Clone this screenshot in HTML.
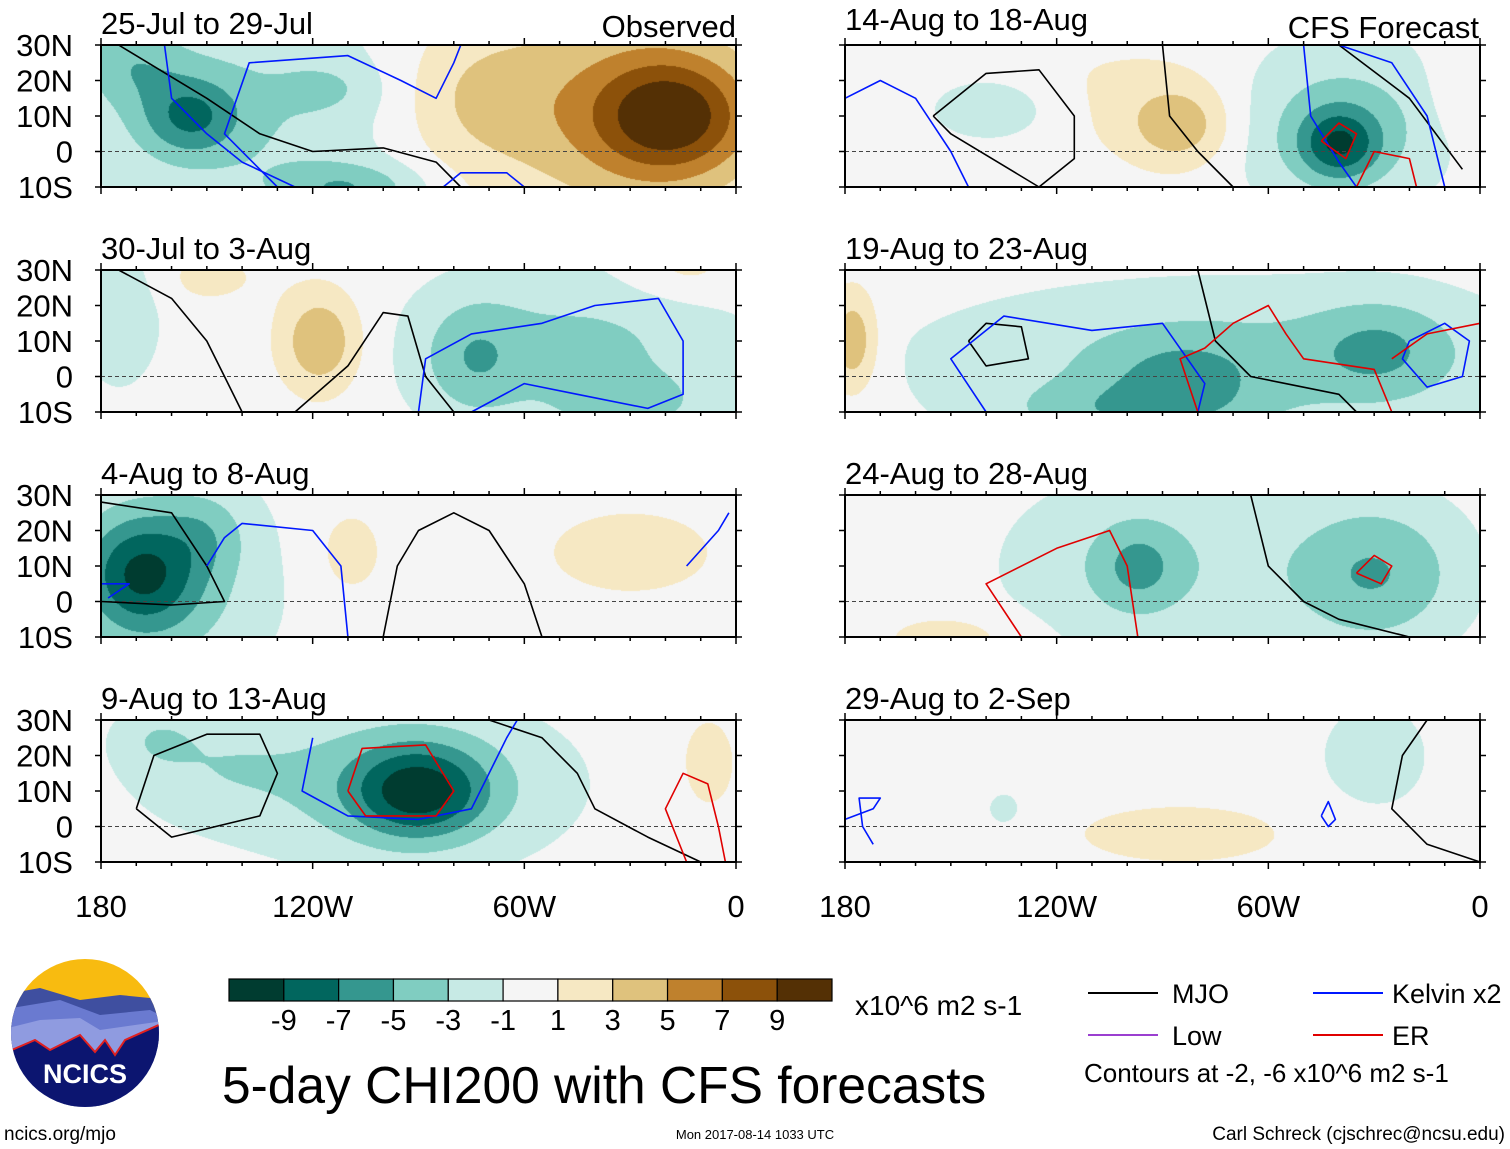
<!DOCTYPE html>
<html><head><meta charset="utf-8">
<style>
html,body{margin:0;padding:0;background:#fff;}
#wrap{position:relative;width:1510px;height:1149px;overflow:hidden;font-family:"Liberation Sans",sans-serif;}
canvas{position:absolute;}
svg{position:absolute;left:0;top:0;}
</style></head>
<body>
<div id="wrap">
<svg id="svg" width="1510" height="1149"></svg>
</div>
<script>
// ---- data ----
const levels = [-9,-7,-5,-3,-1,1,3,5,7,9];
const levelColors = ["#003c30","#01665e","#35978f","#80cdc1","#c7eae5","#f5f5f5","#f6e8c3","#dfc27d","#bf812d","#8c510a","#543005"];
const panelTitles = ["25-Jul to 29-Jul","30-Jul to 3-Aug","4-Aug to 8-Aug","9-Aug to 13-Aug","14-Aug to 18-Aug","19-Aug to 23-Aug","24-Aug to 28-Aug","29-Aug to 2-Sep"];
const latTicks = ["30N","20N","10N","0","10S"];
const lonTicks = ["180","120W","60W","0"];
// anomaly centers: [lon, lat, amplitude, sigmaLon, sigmaLat]
const anomalies = [
 [[-155,10,-5,10,8],[-140,12,-3,35,22],[-172,25,-3,10,8],[-110,-10,-4,15,5],[-18,10,8,16,12],[-35,12,4,30,25],[-75,15,2.5,16,14],[-115,18,-1.5,10,5]],
 [[-118,10,5,8,10],[-45,8,-3.5,32,16],[-75,5,-3,10,12],[-175,18,-3,8,14],[-30,-8,-2.5,15,6],[-15,30,2,12,6],[-150,28,1.5,12,6]],
 [[-169,8,-7,12,12],[-160,5,-3,22,22],[-30,14,1.8,20,10],[-110,14,1.8,8,10],[-150,20,-2,8,8]],
 [[-90,10,-7,13,9],[-95,12,-4,32,16],[-150,18,-2,18,12],[-8,18,2,6,10],[-165,25,-1.8,8,6]],
 [[-40,2,-6,8,7],[-40,8,-4,22,16],[-137,12,-2.5,14,7],[-85,7,4,10,8],[-8,18,1.5,5,10],[-100,15,1.5,25,12]],
 [[-178,10,5,5,10],[-70,5,-3.5,60,15],[-28,8,-3,14,10],[-85,0,-2.5,15,8],[-100,-10,-3,25,6]],
 [[-97,10,-3,8,8],[-95,10,-3,28,18],[-30,8,-5,18,15],[-150,-10,2,14,5]],
 [[-85,-2,1.8,25,7],[-30,20,-2,12,12],[-135,5,-1.8,4,4]]
];
// contours: [type, [[lon,lat],...]]
const contours = [
 [["mjo",[[-175,30],[-150,15],[-135,5],[-120,0],[-100,1],[-85,-3],[-78,-10]]],
  ["kel",[[-162,30],[-160,15],[-150,5],[-140,-3],[-125,-10]]],
  ["kel",[[-130,-10],[-145,5],[-138,25],[-110,27],[-95,20],[-85,15],[-80,25],[-78,30]]],
  ["kel",[[-83,-10],[-78,-6],[-65,-6],[-60,-10]]]],
 [["mjo",[[-175,30],[-160,22],[-150,10],[-145,0],[-140,-10]]],
  ["mjo",[[-125,-10],[-110,3],[-100,18],[-93,17],[-88,0],[-80,-10]]],
  ["kel",[[-90,-10],[-88,5],[-75,12],[-55,15],[-40,20],[-22,22],[-15,10],[-15,-5],[-25,-9],[-45,-5],[-60,-2],[-75,-10]]]],
 [["mjo",[[-180,28],[-160,25],[-150,10],[-145,0],[-160,-1],[-180,0]]],
  ["mjo",[[-100,-10],[-96,10],[-90,20],[-80,25],[-70,20],[-60,5],[-55,-10]]],
  ["kel",[[-150,10],[-145,18],[-140,22],[-120,20],[-112,10],[-110,-10]]],
  ["kel",[[-180,5],[-172,5],[-178,1]]],
  ["kel",[[-14,10],[-5,20],[-2,25]]]],
 [["mjo",[[-170,5],[-165,20],[-150,26],[-135,26],[-130,15],[-135,3],[-160,-3],[-170,5]]],
  ["mjo",[[-70,30],[-55,25],[-45,15],[-40,5],[-25,-3],[-10,-10]]],
  ["kel",[[-120,25],[-123,10],[-110,3],[-90,2],[-75,5],[-70,15],[-65,25],[-62,30]]],
  ["er",[[-110,10],[-106,22],[-88,23],[-80,10],[-85,3],[-105,3],[-110,10]]],
  ["er",[[-14,-10],[-20,5],[-15,15],[-8,12],[-5,0],[-3,-10]]]],
 [["mjo",[[-155,10],[-140,22],[-125,23],[-115,10],[-115,-2],[-125,-10],[-150,5],[-155,10]]],
  ["mjo",[[-90,30],[-88,10],[-80,0],[-70,-10]]],
  ["mjo",[[-40,30],[-20,15],[-5,-5]]],
  ["kel",[[-180,15],[-170,20],[-160,15],[-150,0],[-145,-10]]],
  ["kel",[[-50,30],[-48,10],[-40,-3],[-35,-10]]],
  ["kel",[[-40,30],[-25,25],[-15,10],[-10,-10]]],
  ["er",[[-35,-10],[-30,0],[-20,-2],[-18,-10]]],
  ["er",[[-45,3],[-40,8],[-35,5],[-38,-2],[-45,3]]]],
 [["mjo",[[-145,10],[-140,15],[-130,14],[-128,5],[-140,3],[-145,10]]],
  ["mjo",[[-80,30],[-75,10],[-65,0],[-40,-5],[-35,-10]]],
  ["kel",[[-140,-10],[-150,5],[-135,17],[-110,13],[-90,15],[-78,-2],[-80,-10]]],
  ["kel",[[-20,10],[-10,15],[-3,10],[-5,0],[-15,-3],[-22,5],[-20,10]]],
  ["er",[[-80,-10],[-85,5],[-78,8],[-70,15],[-60,20],[-55,12],[-50,5],[-30,2],[-25,-10]]],
  ["er",[[-25,5],[-15,12],[0,15]]]],
 [["mjo",[[-65,30],[-60,10],[-50,0],[-40,-5],[-20,-10]]],
  ["er",[[-130,-10],[-140,5],[-120,15],[-105,20],[-100,10],[-97,-10]]],
  ["er",[[-35,8],[-30,13],[-25,10],[-28,5],[-35,8]]]],
 [["mjo",[[-15,30],[-22,20],[-25,5],[-15,-5],[0,-10]]],
  ["kel",[[-180,2],[-172,5],[-170,8],[-176,8],[-175,0],[-172,-5]]],
  ["kel",[[-45,3],[-43,7],[-41,2],[-43,0],[-45,3]]]]
];
// ---- layout ----
const NS="http://www.w3.org/2000/svg";
const svg=document.getElementById('svg');
const wrap=document.getElementById('wrap');
const panelW=635, panelH=142;
const colX=[101,845], rowY=[45,270,495,720];
const strokeCol={mjo:"#000",kel:"#0018ff",er:"#e00000"};
function mk(tag,attrs,parent){const e=document.createElementNS(NS,tag);for(const k in attrs)e.setAttribute(k,attrs[k]);(parent||svg).appendChild(e);return e;}
function colorFor(v){let i=0;while(i<levels.length&&v>levels[i])i++;return levelColors[i];}
function hex(c){return [parseInt(c.substr(1,2),16),parseInt(c.substr(3,2),16),parseInt(c.substr(5,2),16)];}
for(let p=0;p<8;p++){
  const px=colX[p<4?0:1], py=rowY[p%4];
  const xs=lon=>px+(lon+180)/180*panelW;
  const ys=lat=>py+(30-lat)/40*panelH;
  const cv=document.createElement('canvas');
  cv.width=panelW;cv.height=panelH;cv.style.left=px+'px';cv.style.top=py+'px';
  
  
  wrap.insertBefore(cv,svg);
  const ctx=cv.getContext('2d');const img=ctx.createImageData(panelW,panelH);
  const blobs=anomalies[p];
  for(let j=0;j<panelH;j++){const lat=30-j/panelH*40;
    for(let i=0;i<panelW;i++){const lon=-180+i/panelW*180;let v=0;
      for(const b of blobs){const dx=(lon-b[0])/b[3],dy=(lat-b[1])/b[4];v+=b[2]*Math.exp(-0.5*(dx*dx+dy*dy));}
      const c=hex(colorFor(v));const k=(j*panelW+i)*4;img.data[k]=c[0];img.data[k+1]=c[1];img.data[k+2]=c[2];img.data[k+3]=255;}}
  ctx.putImageData(img,0,0);
  const g=mk('g',{});
  
  
  const eq=mk('line',{x1:px,x2:px+panelW,y1:ys(0),y2:ys(0),stroke:"#444","stroke-width":1,"stroke-dasharray":"4,3"},g);
  
  
  for(const c of contours[p]){
    const d=c[1].map((pt,i)=>(i?'L':'M')+xs(pt[0]).toFixed(1)+','+ys(pt[1]).toFixed(1)).join(' ');
    const path=mk('path',{d:d,fill:"none",stroke:strokeCol[c[0]],"stroke-width":1.6,"stroke-linejoin":"round"},g);
    
    
  }
  const fr=mk('rect',{x:px,y:py,width:panelW,height:panelH,fill:"none",stroke:"#000","stroke-width":2},g);
  
  
  for(let lon=-180;lon<=0;lon+=10){const x=xs(lon),L=(lon%60===0)?7:4;
    mk('line',{x1:x,x2:x,y1:py,y2:py-L,stroke:"#000","stroke-width":1.5},g);
    mk('line',{x1:x,x2:x,y1:py+panelH,y2:py+panelH+L,stroke:"#000","stroke-width":1.5},g);}
  for(let lat=-10;lat<=30;lat+=10){const y=ys(lat);
    mk('line',{x1:px,x2:px-6,y1:y,y2:y,stroke:"#000","stroke-width":1.5},g);
    mk('line',{x1:px+panelW,x2:px+panelW+6,y1:y,y2:y,stroke:"#000","stroke-width":1.5},g);}
  const ty=(p===4)?py-15:py-11;
  const t=mk('text',{x:px,y:ty,"font-size":31,fill:"#000"},g);t.textContent=panelTitles[p];
  
  
  if(p<4){latTicks.forEach((s,i)=>{const tt=mk('text',{x:73,y:ys(30-i*10)+11,"font-size":31,"text-anchor":"end"},g);tt.textContent=s;
    
    });}
}
const o1=mk('text',{x:736,y:37,"font-size":31,"text-anchor":"end"});o1.textContent="Observed";


const o2=mk('text',{x:1479,y:38,"font-size":31,"text-anchor":"end"});o2.textContent="CFS Forecast";


colX.forEach(px=>lonTicks.forEach((s,i)=>{const t=mk('text',{x:px+i*panelW/3,y:917,"font-size":31,"text-anchor":"middle"});t.textContent=s;
  
  }));
// colorbar
const cbx=229,cby=979,cbw=603/11;
levelColors.forEach((c,i)=>{const r=mk('rect',{x:cbx+i*cbw,y:cby,width:cbw,height:22,fill:c,stroke:"#000","stroke-width":1.2});
  
  });
[-9,-7,-5,-3,-1,1,3,5,7,9].forEach((v,i)=>{const t=mk('text',{x:cbx+(i+1)*cbw,y:1030,"font-size":29,"text-anchor":"middle"});t.textContent=v;
  
  });
function txt(s,x,y,fs,anchor,name){const t=mk('text',{x:x,y:y,"font-size":fs,"text-anchor":anchor||"start"});t.textContent=s;
  
  return t;}
txt("x10^6 m2 s-1",855,1015,28,"start","colorbar-units");
txt("5-day CHI200 with CFS forecasts",222,1103,51.5,"start","main-title");
[["#000",1088,993,"MJO",1172],["#0018ff",1313,993,"Kelvin x2",1392],["#9b3fd0",1088,1035,"Low",1172],["#e00000",1313,1035,"ER",1392]].forEach(l=>{
  const ln=mk('line',{x1:l[1],x2:l[1]+70,y1:l[2],y2:l[2],stroke:l[0],"stroke-width":2});
  
  
  txt(l[3],l[4],l[2]+10,27,"start","legend-entry");});
txt("Contours at -2, -6 x10^6 m2 s-1",1084,1082,26,"start","contour-note");
txt("ncics.org/mjo",4,1140,19,"start","site-url");
txt("Mon 2017-08-14 1033 UTC",755,1139,13,"middle","timestamp");
txt("Carl Schreck (cjschrec@ncsu.edu)",1505,1140,19,"end","author");
// logo
const lg=mk('g',{});


mk('defs',{},lg).innerHTML='<clipPath id="lc"><circle cx="85" cy="1033" r="74"/></clipPath>';
const lc=mk('g',{"clip-path":"url(#lc)"},lg);
mk('rect',{x:0,y:955,width:170,height:160,fill:"#f8bb10"},lc);
mk('path',{d:"M0,995 L40,988 L80,1000 L120,995 L170,1000 L170,1120 L0,1120Z",fill:"#3f4fa0"},lc);
mk('path',{d:"M0,1010 L60,1000 L100,1015 L150,1010 L170,1020 L170,1120 L0,1120Z",fill:"#6a7ad0"},lc);
mk('path',{d:"M0,1030 L40,1020 L80,1018 L100,1030 L170,1020 L170,1120 L0,1120Z",fill:"#8f9be0"},lc);
mk('path',{d:"M0,1055 L35,1040 L50,1050 L60,1045 L80,1035 L95,1052 L105,1040 L115,1055 L125,1040 L170,1020 L170,1120 L0,1120Z",fill:"#0c1570",stroke:"#e02020","stroke-width":2},lc);
const lt=mk('text',{x:85,y:1083,"font-size":27,"font-weight":"bold",fill:"#fff","text-anchor":"middle"},lg);lt.textContent="NCICS";


</script>
</body></html>
